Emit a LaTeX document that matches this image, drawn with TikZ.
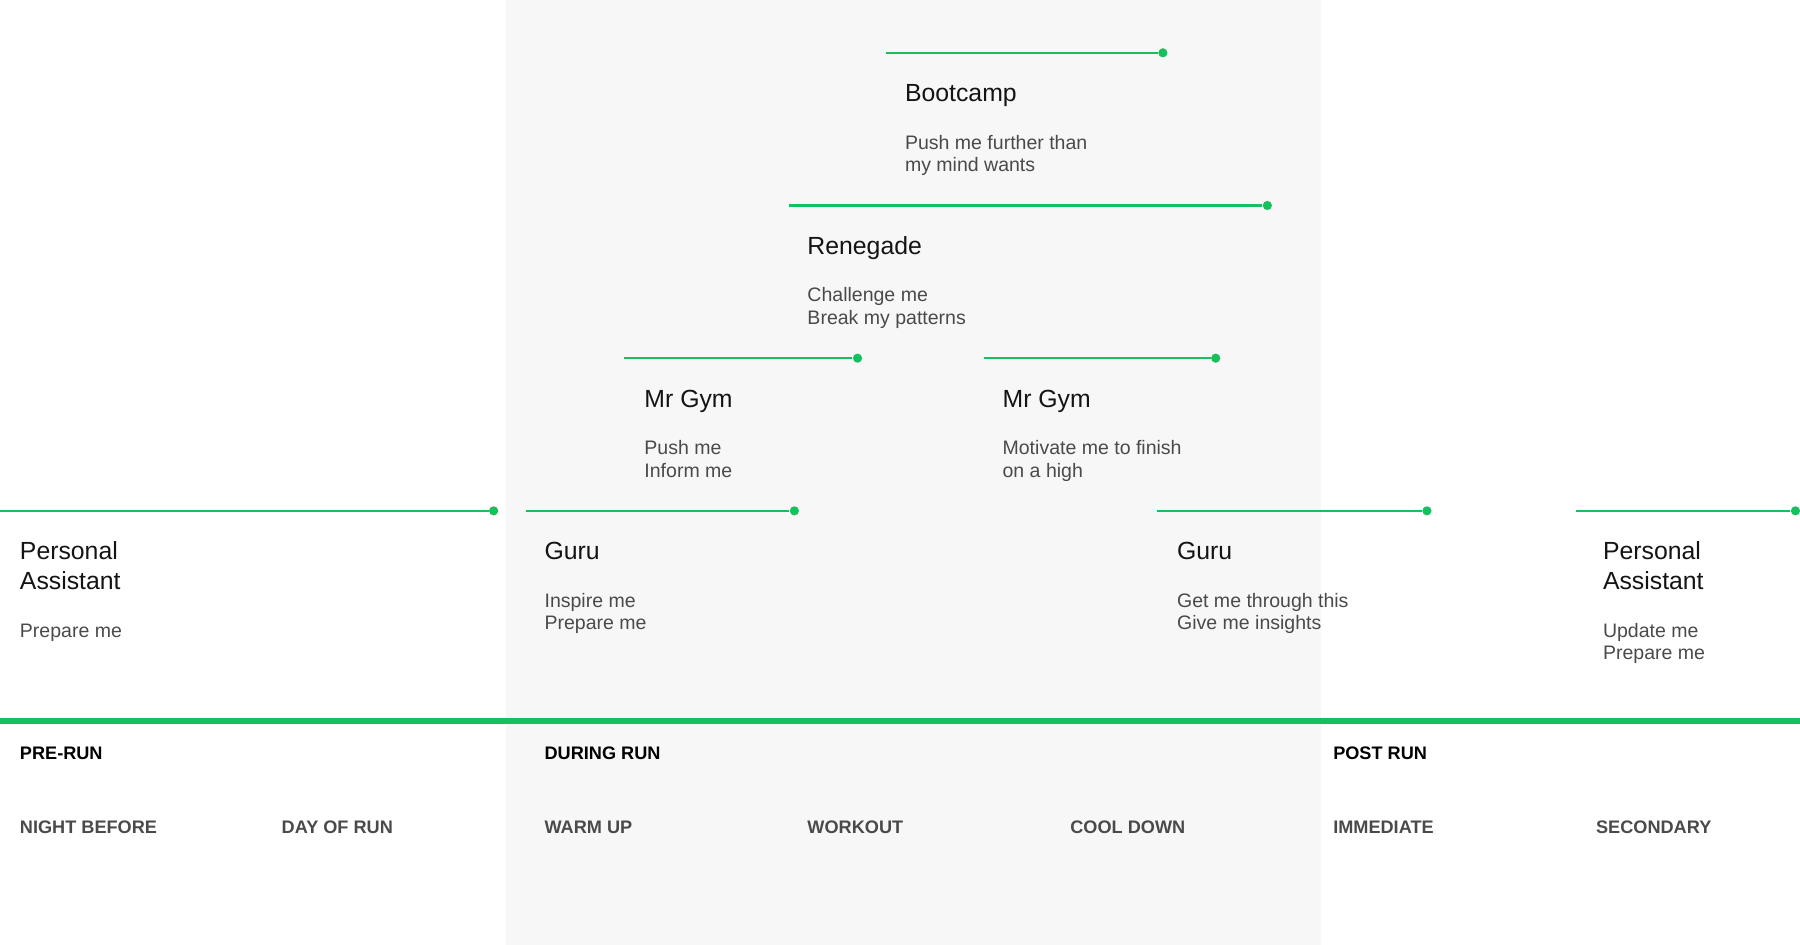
\documentclass[tikz,border=0pt]{standalone}
\usepackage{fontspec}
\setmainfont{Liberation Sans}
\usetikzlibrary{positioning}
\definecolor{rungreen}{RGB}{22,192,92}
\definecolor{lanegray}{RGB}{247,247,247}
\definecolor{subgray}{RGB}{74,74,74}
\tikzstyle{persona} = [anchor=base west, inner sep=0pt, align=left,
    text=black!92, font=\fontsize{10.8}{13}\selectfont]
\tikzstyle{wish} = [anchor=base west, inner sep=0pt, align=left,
    text=subgray, font=\fontsize{8.5}{9.85}\selectfont]
\tikzstyle{phase} = [anchor=base west, inner sep=0pt, text=black,
    font=\bfseries\fontsize{7.9}{9.6}\selectfont]
\tikzstyle{stage} = [phase, text=subgray]
\tikzstyle{reach} = [draw=rungreen, line width=0.9pt]
\tikzstyle{dot} = [circle, fill=rungreen, inner sep=0pt, minimum size=4pt]

\begin{document}
\begin{tikzpicture}[x=0.5pt, y=-0.5pt]
  \useasboundingbox (0,0) rectangle (1568,823);
  % During run lane
  \fill[lanegray] (441,0) rectangle (1151,823);

  % Bootcamp
  \coordinate (bootS) at (772,46);
  \node [dot] (bootE) at (1013,46) {};
  \draw [reach] (bootS) -- (bootE);
  \node [persona] (boot) at ([xshift=8pt,yshift=-21.3pt]bootS) {Bootcamp};
  \node [wish] (bootW) at ([yshift=-30.55pt]boot.base west)
  {Push me further than\\my mind wants};

  % Renegade
  \coordinate (reneS) at (687,179);
  \node [dot] (reneE) at (1104,179) {};
  \draw [reach] (reneS) -- (reneE);
  \node [persona] (rene) at ([xshift=8pt,yshift=-21.3pt]reneS) {Renegade};
  \node [wish] (reneW) at ([yshift=-30.55pt]rene.base west)
  {Challenge me\\Break my patterns};

  % Mr Gym, warm up side
  \coordinate (gymaS) at (544,312);
  \node [dot] (gymaE) at (747,312) {};
  \draw [reach] (gymaS) -- (gymaE);
  \node [persona] (gyma) at ([xshift=8.5pt,yshift=-21.3pt]gymaS) {Mr Gym};
  \node [wish] (gymaW) at ([yshift=-30.55pt]gyma.base west)
  {Push me\\Inform me};

  % Mr Gym, cool down side
  \coordinate (gymbS) at (857,312);
  \node [dot] (gymbE) at (1059,312) {};
  \draw [reach] (gymbS) -- (gymbE);
  \node [persona] (gymb) at ([xshift=8pt,yshift=-21.3pt]gymbS) {Mr Gym};
  \node [wish] (gymbW) at ([yshift=-30.55pt]gymb.base west)
  {Motivate me to finish\\on a high};

  % Personal Assistant, pre-run
  \coordinate (asstaS) at (0,445);
  \node [dot] (asstaE) at (430,445) {};
  \draw [reach] (asstaS) -- (asstaE);
  \node [persona] (assta) at ([xshift=8.5pt,yshift=-34.3pt]asstaS)
  {Personal\\Assistant};
  \node [wish] (asstaW) at ([yshift=-20.7pt]assta.base west) {Prepare me};

  % Guru, warm up
  \coordinate (guruaS) at (458,445);
  \node [dot] (guruaE) at (692,445) {};
  \draw [reach] (guruaS) -- (guruaE);
  \node [persona] (gurua) at ([xshift=8pt,yshift=-21.3pt]guruaS) {Guru};
  \node [wish] (guruaW) at ([yshift=-30.55pt]gurua.base west)
  {Inspire me\\Prepare me};

  % Guru, cool down
  \coordinate (gurubS) at (1008,445);
  \node [dot] (gurubE) at (1243,445) {};
  \draw [reach] (gurubS) -- (gurubE);
  \node [persona] (gurub) at ([xshift=8.5pt,yshift=-21.3pt]gurubS) {Guru};
  \node [wish] (gurubW) at ([yshift=-30.55pt]gurub.base west)
  {Get me through this\\Give me insights};

  % Personal Assistant, post run
  \coordinate (asstbS) at (1373,445);
  \node [dot] (asstbE) at (1564,445) {};
  \draw [reach] (asstbS) -- (asstbE);
  \node [persona] (asstb) at ([xshift=11.5pt,yshift=-34.3pt]asstbS)
  {Personal\\Assistant};
  \node [wish] (asstbW) at ([yshift=-30.55pt]asstb.base west)
  {Update me\\Prepare me};

  % Timeline
  \coordinate (lineL) at (0,628);
  \coordinate (lineR) at (1568,628);
  \draw [rungreen, line width=2.3pt] (lineL) -- (lineR);

  % Phases and stages
  \node [phase] (pre) at (17,661.4) {PRE-RUN};
  \node [phase] (during) at (474,661.4) {DURING RUN};
  \node [phase] (post) at (1161,661.4) {POST RUN};
  \node [stage] (night) at ([yshift=-32.3pt]pre.base west) {NIGHT BEFORE};
  \node [stage] (day) at (245,726) {DAY OF RUN};
  \node [stage] (warm) at ([yshift=-32.3pt]during.base west) {WARM UP};
  \node [stage] (work) at (703,726) {WORKOUT};
  \node [stage] (cool) at (932,726) {COOL DOWN};
  \node [stage] (immed) at ([yshift=-32.3pt]post.base west) {IMMEDIATE};
  \node [stage] (second) at (1390,726) {SECONDARY};
\end{tikzpicture}
\end{document}
